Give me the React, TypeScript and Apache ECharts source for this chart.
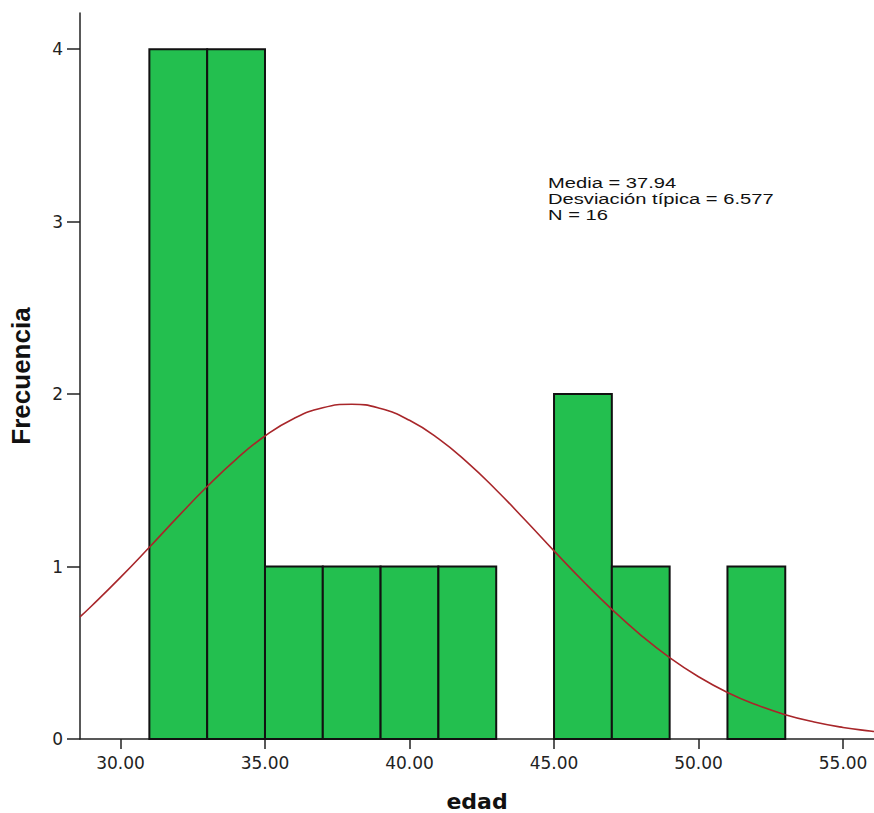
import React, { useEffect, useRef } from "react";
import * as echarts from "echarts";

// Histogram bins: [start, end, count]
const binStarts = [31, 33, 35, 37, 39, 41, 43, 45, 47, 49, 51];
const binEnds = [33, 35, 37, 39, 41, 43, 45, 47, 49, 51, 53];
const binCounts = [4, 4, 1, 1, 1, 1, 0, 2, 1, 0, 1];

// Normal curve (mean 37.94, sd 6.577, N 16)
const curveX = [28.6, 29, 30, 31, 32, 33, 34, 35, 36, 37, 38, 39, 40, 41, 42, 43, 44, 45, 46, 47, 48, 49, 50, 51, 52, 53, 54, 55, 56, 56.07];
const curveY = [0.708, 0.771, 0.937, 1.112, 1.291, 1.464, 1.622, 1.757, 1.859, 1.921, 1.941, 1.916, 1.848, 1.742, 1.604, 1.444, 1.27, 1.091, 0.916, 0.752, 0.603, 0.472, 0.361, 0.27, 0.198, 0.141, 0.0985, 0.0671, 0.0447, 0.0434];

const xTicks = [30, 35, 40, 45, 50, 55];
const yTicks = [0, 1, 2, 3, 4];

const statsLines = ["Media = 37.94", "Desviación típica = 6.577", "N = 16"];

const ARIAL = "Liberation Sans, Arial, sans-serif";
const WIDE = "DejaVu Sans, Verdana, sans-serif";

export default function App() {
  const ref = useRef<HTMLDivElement>(null);
  useEffect(() => {
    if (!ref.current) return;
    const chart = echarts.init(ref.current, null, { renderer: "svg" });
    const bins = binStarts.map((s, i) => [s, binEnds[i], binCounts[i]]).filter((b) => b[2] > 0);
    chart.setOption({
      animation: false,
      backgroundColor: "#ffffff",
      grid: { left: 80, right: 0, top: 13, bottom: 74, outerBoundsMode: "none", containLabel: false },
      xAxis: {
        type: "value",
        min: 28.6,
        max: 56.07,
        name: "edad",
        nameLocation: "middle",
        nameGap: 51,
        nameTextStyle: { fontFamily: WIDE, fontSize: 22, fontWeight: "bold", color: "#111" },
        axisLine: { show: true, lineStyle: { color: "#222", width: 1.5 } },
        axisTick: { show: true, length: 10, customValues: xTicks, lineStyle: { color: "#222", width: 1.5 } },
        axisLabel: {
          customValues: xTicks,
          formatter: (v: number) => v.toFixed(2),
          margin: 15,
          fontFamily: WIDE,
          fontSize: 17,
          color: "#222",
        },
        splitLine: { show: false },
      },
      yAxis: {
        type: "value",
        min: 0,
        max: 4.21,
        name: "Frecuencia",
        nameLocation: "middle",
        nameRotate: 90,
        nameGap: 46,
        nameTextStyle: { fontFamily: ARIAL, fontSize: 26, fontWeight: "bold", color: "#111" },
        axisLine: { show: true, lineStyle: { color: "#222", width: 1.5 } },
        axisTick: { show: true, length: 13, customValues: yTicks, lineStyle: { color: "#222", width: 1.5 } },
        axisLabel: {
          customValues: yTicks,
          margin: 17,
          fontFamily: WIDE,
          fontSize: 17,
          color: "#222",
        },
        splitLine: { show: false },
      },
      series: [
        {
          type: "custom",
          data: bins,
          encode: { x: [0, 1], y: 2 },
          renderItem: (params: any, api: any) => {
            const p1 = api.coord([api.value(0), api.value(2)]);
            const p2 = api.coord([api.value(1), 0]);
            return {
              type: "rect",
              shape: { x: p1[0], y: p1[1], width: p2[0] - p1[0], height: p2[1] - p1[1] },
              style: { fill: "#23BF4F", stroke: "#111", lineWidth: 2 },
            };
          },
          z: 2,
        },
        {
          type: "line",
          data: curveX.map((x, i) => [x, curveY[i]]),
          smooth: true,
          showSymbol: false,
          lineStyle: { color: "#A8262A", width: 1.6 },
          z: 3,
        },
      ],
      graphic: [
        {
          type: "text",
          x: 548,
          y: 175,
          scaleX: 1.3,
          style: {
            text: statsLines.join("\n"),
            font: `15.5px ${ARIAL}`,
            lineHeight: 16,
            fill: "#111",
          },
        },
      ],
    });
    return () => chart.dispose();
  }, []);
  return <div ref={ref} style={{ position: "fixed", left: 0, top: 0, width: 874, height: 813 }} />;
}
